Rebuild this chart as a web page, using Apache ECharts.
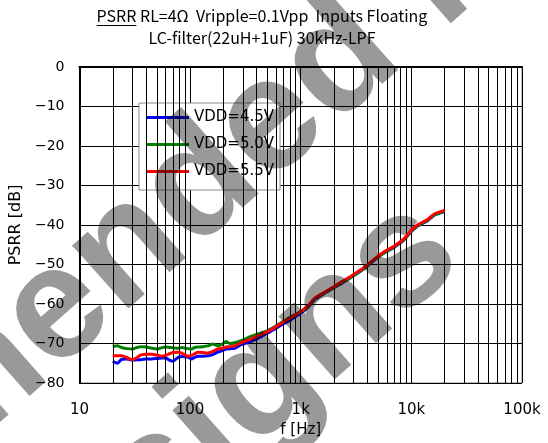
<!DOCTYPE html>
<html>
<head>
<meta charset="utf-8">
<script src="https://cdn.jsdelivr.net/npm/echarts@6/dist/echarts.min.js"></script>
<style>
  html, body { margin: 0; padding: 0; background: #fff; }
  #chart { width: 548px; height: 443px; }
</style>
</head>
<body>
<div id="chart"></div>
<script>
// Measurement frequencies (Hz)
const freq = [20, 22, 24, 27, 30, 33, 36, 40, 45, 50, 55, 60, 65, 70, 78, 85, 95, 103, 110, 118,
  130, 145, 160, 178, 195, 211, 230, 253, 290, 345, 410, 500, 580, 660, 820, 1000, 1170, 1330, 1600, 2000,
  2340, 2840, 3300, 3800, 4500, 5500, 7000, 8500, 10000, 11500, 14000, 16000, 18000, 20000];

// PSRR (dB) per supply voltage
const vdd45 = [-74.5, -75.0, -74.0, -73.9, -74.2, -74.1, -74.1, -73.9, -73.9, -73.8, -73.7, -73.7, -74.2, -74.5, -73.5, -73.3, -73.4, -73.9, -73.5, -73.2,
  -73.2, -73.1, -72.8, -72.2, -71.8, -71.4, -71.3, -71.2, -70.3, -69.6, -68.7, -67.4, -66.4, -65.4, -63.9, -62.3, -60.8, -59.0, -57.5, -55.9,
  -54.8, -53.3, -52.1, -50.9, -49.2, -47.3, -45.6, -43.9, -41.6, -40.2, -38.9, -37.6, -37.0, -36.6];
const vdd50 = [-70.8, -70.6, -71.0, -71.3, -71.4, -71.0, -70.8, -70.9, -71.2, -71.4, -71.1, -70.9, -71.0, -71.1, -71.2, -71.0, -71.3, -71.4, -71.0, -70.9,
  -70.8, -70.6, -70.1, -70.6, -70.2, -69.5, -70.0, -69.8, -69.3, -68.3, -67.6, -66.8, -65.8, -64.8, -63.2, -62.0, -60.6, -58.8, -57.4, -55.8,
  -54.7, -53.3, -52.0, -50.9, -49.1, -47.3, -45.5, -43.8, -41.5, -40.1, -38.8, -37.5, -36.9, -36.5];
const vdd55 = [-73.1, -73.1, -73.1, -73.6, -74.1, -73.6, -72.9, -72.7, -72.7, -72.9, -73.2, -73.0, -72.6, -72.3, -72.2, -72.5, -73.2, -73.0, -72.6, -72.2,
  -72.3, -72.4, -72.0, -71.4, -71.2, -70.9, -70.8, -70.6, -69.8, -69.0, -68.1, -67.0, -66.0, -65.0, -63.4, -61.9, -60.4, -58.6, -57.2, -55.6,
  -54.4, -53.0, -51.8, -50.6, -48.9, -47.0, -45.3, -43.6, -41.3, -39.9, -38.6, -37.3, -36.7, -36.3];

const seriesNames = ['VDD=4.5V', 'VDD=5.0V', 'VDD=5.5V'];
const seriesColors = ['#0000ff', '#008000', '#ff0000'];

// Axis ticks
const xTickValues = [10, 100, 1000, 10000, 100000];
const xTickLabels = ['10', '100', '1k', '10k', '100k'];
const xMinorLines = [20, 30, 40, 50, 60, 70, 80, 90, 200, 300, 400, 500, 600, 700, 800, 900,
  2000, 3000, 4000, 5000, 6000, 7000, 8000, 9000, 20000, 30000, 40000, 50000, 60000, 70000, 80000, 90000];
const yTickValues = [0, -10, -20, -30, -40, -50, -60, -70, -80];
const yTickLabels = ['0', '−10', '−20', '−30', '−40', '−50', '−60', '−70', '−80'];

const titleLine1a = 'PSRR';
const titleLine1b = ' RL=4Ω  Vripple=0.1Vpp  Inputs Floating';
const titleLine2 = 'LC-filter(22uH+1uF) 30kHz-LPF';
const stampLines = ['Not Recommended for', 'New Designs'];

const TITLE_FONT = '"Noto Sans CJK JP", "Noto Sans", sans-serif';
const LABEL_FONT = '"DejaVu Sans", sans-serif';

const chart = echarts.init(document.getElementById('chart'), null, { renderer: 'canvas' });

// width of the title parts, for centring and the underline
const mctx = document.createElement('canvas').getContext('2d');
mctx.font = '16px ' + TITLE_FONT;
const wA = mctx.measureText(titleLine1a).width;
const wB = mctx.measureText(titleLine1b).width;
const titleCx = 262;
const t1x = titleCx - (wA + wB) / 2;

const lineSeries = [vdd45, vdd50, vdd55].map((vals, k) => ({
  name: seriesNames[k],
  type: 'line',
  data: freq.map((f, i) => [f, vals[i]]),
  showSymbol: false,
  smooth: 0.2,
  lineStyle: { color: seriesColors[k], width: 3 },
  itemStyle: { color: seriesColors[k] },
  z: 3 + k
}));

// decade sub-divisions of the frequency grid
const gridSeries = {
  type: 'line',
  data: [],
  silent: true,
  z: 1,
  markLine: {
    silent: true,
    symbol: 'none',
    label: { show: false },
    animation: false,
    lineStyle: { color: '#000', width: 1, type: 'solid' },
    data: xMinorLines.map(v => ({ xAxis: v }))
  }
};

// diagonal stamp across the page (right-aligned lines)
const stampAngle = 41.5 * Math.PI / 180;
const stampStyle = {
  font: 'bold 160px "Liberation Sans", Arial, sans-serif',
  fill: 'rgba(0,0,0,0.4)', align: 'right', verticalAlign: 'middle'
};
const stampAnchors = [[570, -141], [437, 230]];

chart.setOption({
  animation: false,
  backgroundColor: '#fff',
  textStyle: { fontFamily: LABEL_FONT },
  grid: { left: 78, right: 26, top: 67, bottom: 60, show: true, borderColor: '#888', borderWidth: 1 },
  legend: {
    data: seriesNames,
    orient: 'vertical',
    left: 139, top: 103,
    padding: [6, 6, 10, 8],
    itemGap: 10,
    itemWidth: 42, itemHeight: 3,
    icon: 'rect',
    backgroundColor: '#fff',
    borderColor: '#888',
    borderWidth: 1,
    borderRadius: 0,
    textStyle: { fontSize: 15, color: '#000', fontFamily: LABEL_FONT, lineHeight: 17 }
  },
  xAxis: {
    type: 'log', logBase: 10, min: 10, max: 100000,
    name: 'f [Hz]', nameLocation: 'middle', nameGap: 35,
    nameTextStyle: { fontSize: 15, color: '#000', fontFamily: LABEL_FONT },
    axisLine: { lineStyle: { color: '#000', width: 2 } },
    axisTick: { show: false },
    axisLabel: {
      margin: 20, fontSize: 15, color: '#000', fontFamily: LABEL_FONT,
      formatter: v => { const i = xTickValues.findIndex(t => Math.abs(t - v) / t < 1e-6); return i >= 0 ? xTickLabels[i] : ''; }
    },
    splitLine: { show: true, lineStyle: { color: '#000', width: 1 } }
  },
  yAxis: {
    type: 'value', min: -80, max: 0, interval: 10,
    name: 'PSRR [dB]', nameLocation: 'middle', nameGap: 45, nameRotate: 90,
    nameTextStyle: { fontSize: 16, color: '#000', fontFamily: LABEL_FONT },
    axisLine: { show: true, lineStyle: { color: '#000', width: 2 } },
    axisTick: { show: false },
    axisLabel: {
      margin: 15, fontSize: 14, color: '#000', fontFamily: LABEL_FONT,
      formatter: v => { const i = yTickValues.indexOf(Math.round(v)); return i >= 0 ? yTickLabels[i] : ''; }
    },
    splitLine: { show: true, lineStyle: { color: '#000', width: 1 } }
  },
  series: [gridSeries].concat(lineSeries),
  graphic: [
    { type: 'text', x: t1x, y: 16, style: { text: titleLine1a, font: '16px ' + TITLE_FONT, fill: '#000', verticalAlign: 'middle' } },
    { type: 'line', shape: { x1: t1x, y1: 25.5, x2: t1x + wA, y2: 25.5 }, style: { stroke: '#000', lineWidth: 1 } },
    { type: 'text', x: t1x + wA, y: 16, style: { text: titleLine1b, font: '16px ' + TITLE_FONT, fill: '#000', verticalAlign: 'middle' } },
    { type: 'text', x: titleCx, y: 38, style: { text: titleLine2, font: '16px ' + TITLE_FONT, fill: '#000', align: 'center', verticalAlign: 'middle' } }
  ].concat(stampLines.map((t, i) => ({
    type: 'text', x: stampAnchors[i][0], y: stampAnchors[i][1], rotation: stampAngle, z: 100, silent: true,
    style: Object.assign({ text: t }, stampStyle)
  })))
});
</script>
</body>
</html>
